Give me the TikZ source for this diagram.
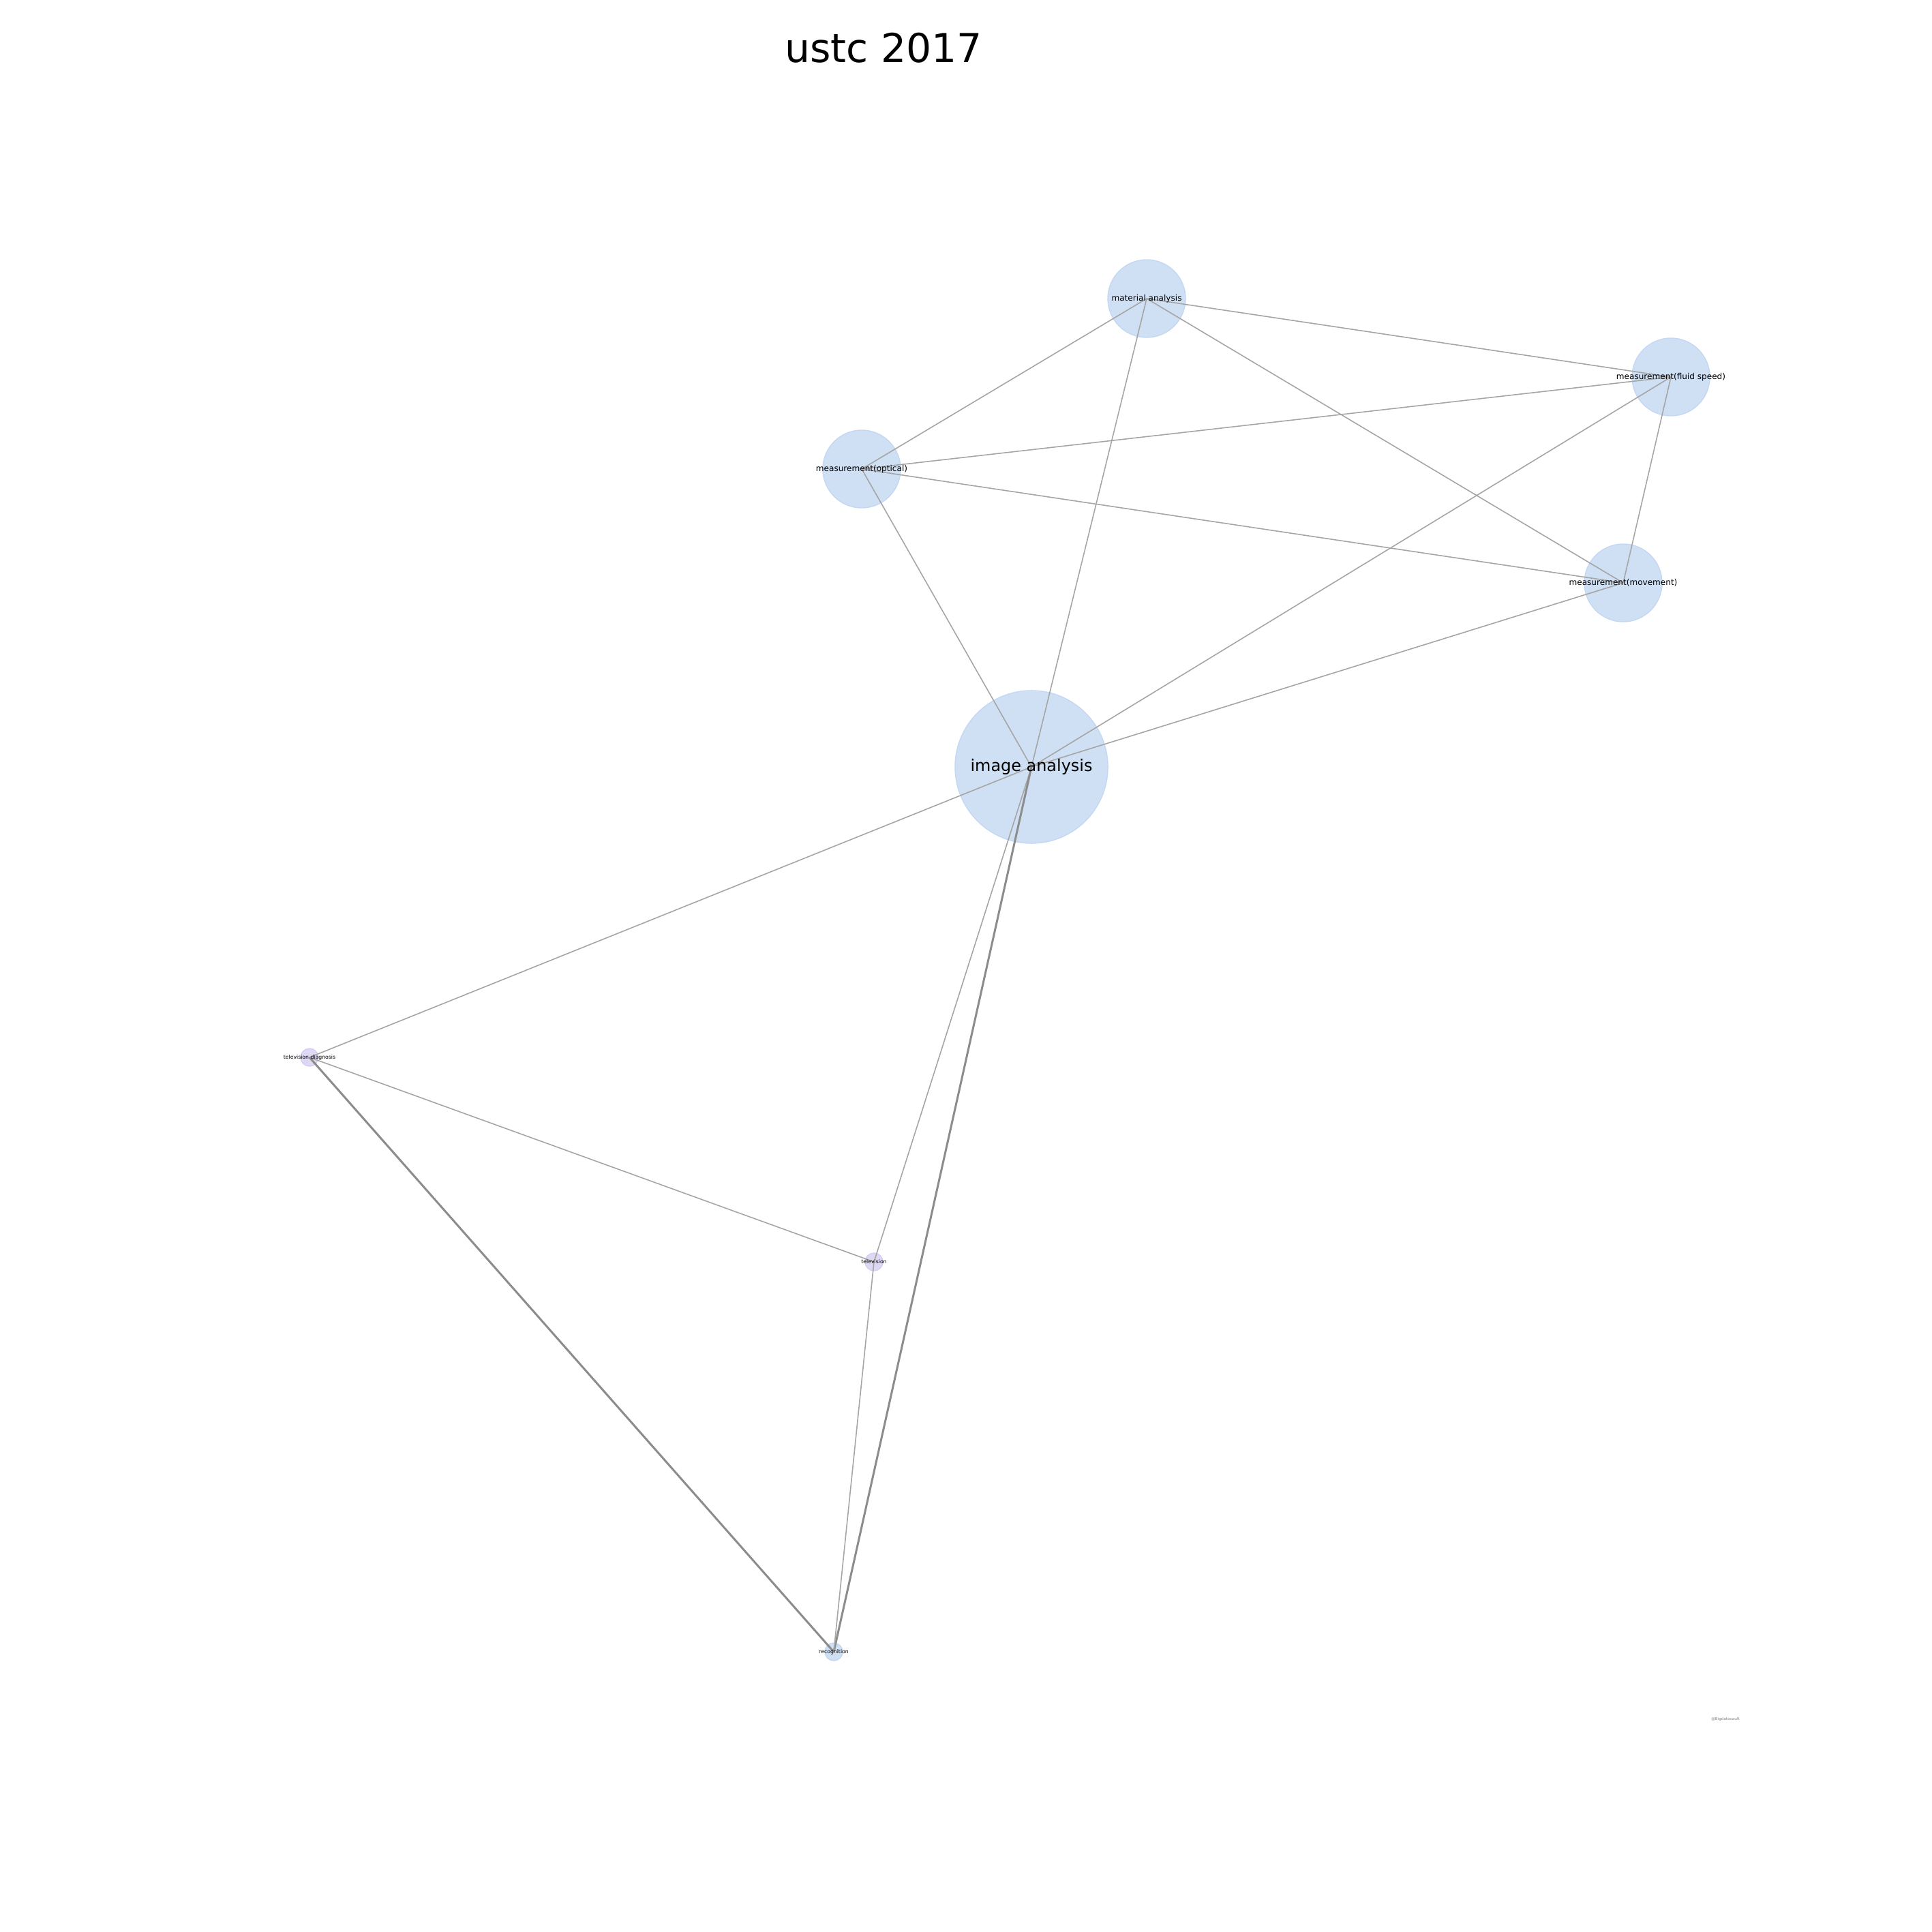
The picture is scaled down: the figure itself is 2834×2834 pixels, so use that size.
\documentclass[tikz,border=0pt]{standalone}
\usepackage{fontspec}
\setmainfont{DejaVu Sans}
\definecolor{nodeblue}{RGB}{207,224,245}
\definecolor{nodeline}{RGB}{196,216,243}
\definecolor{nodelilac}{RGB}{222,216,244}
\definecolor{linelilac}{RGB}{214,206,242}
\definecolor{edgegrey}{RGB}{165,165,165}
\definecolor{edgedark}{RGB}{140,140,140}
\tikzset{
  topic/.style={circle,inner sep=0pt,fill=nodeblue,draw=nodeline,line width=0.4pt},
  subtopic/.style={circle,inner sep=0pt,fill=nodelilac,draw=linelilac,line width=0.4pt},
  link/.style={draw=edgegrey,line width=0.45pt},
  strong link/.style={draw=edgedark,line width=0.85pt},
  big label/.style={inner sep=0pt,font=\fontsize{6.8}{8}\selectfont},
  mid label/.style={inner sep=0pt,font=\fontsize{3.43}{4}\selectfont},
  tiny label/.style={inner sep=0pt,font=\fontsize{2.2}{2.6}\selectfont},
}

\begin{document}
\begin{tikzpicture}[x=0.01cm,y=0.01cm,yscale=-1,xscale=1]
    \useasboundingbox (0,0) rectangle (2834,2834);

    % Title
    \node (title) [anchor=base,inner sep=0pt,font=\fontsize{16.6}{20}\selectfont] at (1296,92) {ustc 2017};

    %Shape: Circles
    \node (ia) [topic,minimum size=2.24cm] at (1513,1125) {};
    \node (ma) [topic,minimum size=1.14cm] at (1682,438) {};
    \node (mf) [topic,minimum size=1.14cm] at (2451,553) {};
    \node (mo) [topic,minimum size=1.14cm] at (1264,688) {};
    \node (mm) [topic,minimum size=1.14cm] at (2381,855) {};
    \node (td) [subtopic,minimum size=0.26cm] at (454,1551) {};
    \node (tv) [subtopic,minimum size=0.26cm] at (1282,1851) {};
    \node (rc) [topic,minimum size=0.26cm] at (1223,2423) {};

    %Straight Lines
    \draw [link] (ma.center) -- (mo.center);
    \draw [link] (ma.center) -- (ia.center);
    \draw [link] (ma.center) -- (mf.center);
    \draw [link] (ma.center) -- (mm.center);
    \draw [link] (mf.center) -- (mo.center);
    \draw [link] (mf.center) -- (mm.center);
    \draw [link] (mf.center) -- (ia.center);
    \draw [link] (mo.center) -- (mm.center);
    \draw [link] (mo.center) -- (ia.center);
    \draw [link] (mm.center) -- (ia.center);
    \draw [link] (ia.center) -- (td.center);
    \draw [link] (ia.center) -- (tv.center);
    \draw [strong link] (ia.center) -- (rc.center);
    \draw [link] (td.center) -- (tv.center);
    \draw [strong link] (td.center) -- (rc.center);
    \draw [link] (tv.center) -- (rc.center);

    % Text Node
    \node (ia-l) [big label] at (ia) {image analysis};
    \node (ma-l) [mid label] at (ma) {material analysis};
    \node (mf-l) [mid label] at (mf) {measurement(fluid speed)};
    \node (mo-l) [mid label] at (mo) {measurement(optical)};
    \node (mm-l) [mid label] at (mm) {measurement(movement)};
    \node (td-l) [tiny label] at (td) {television diagnosis};
    \node (tv-l) [tiny label] at (tv) {television};
    \node (rc-l) [tiny label] at (rc) {recognition};

    % Watermark
    \node (mark) [inner sep=0pt,text=gray,font=\fontsize{1.6}{2}\selectfont] at (2531,2522) {@Bigdatavault};
\end{tikzpicture}
\end{document}
